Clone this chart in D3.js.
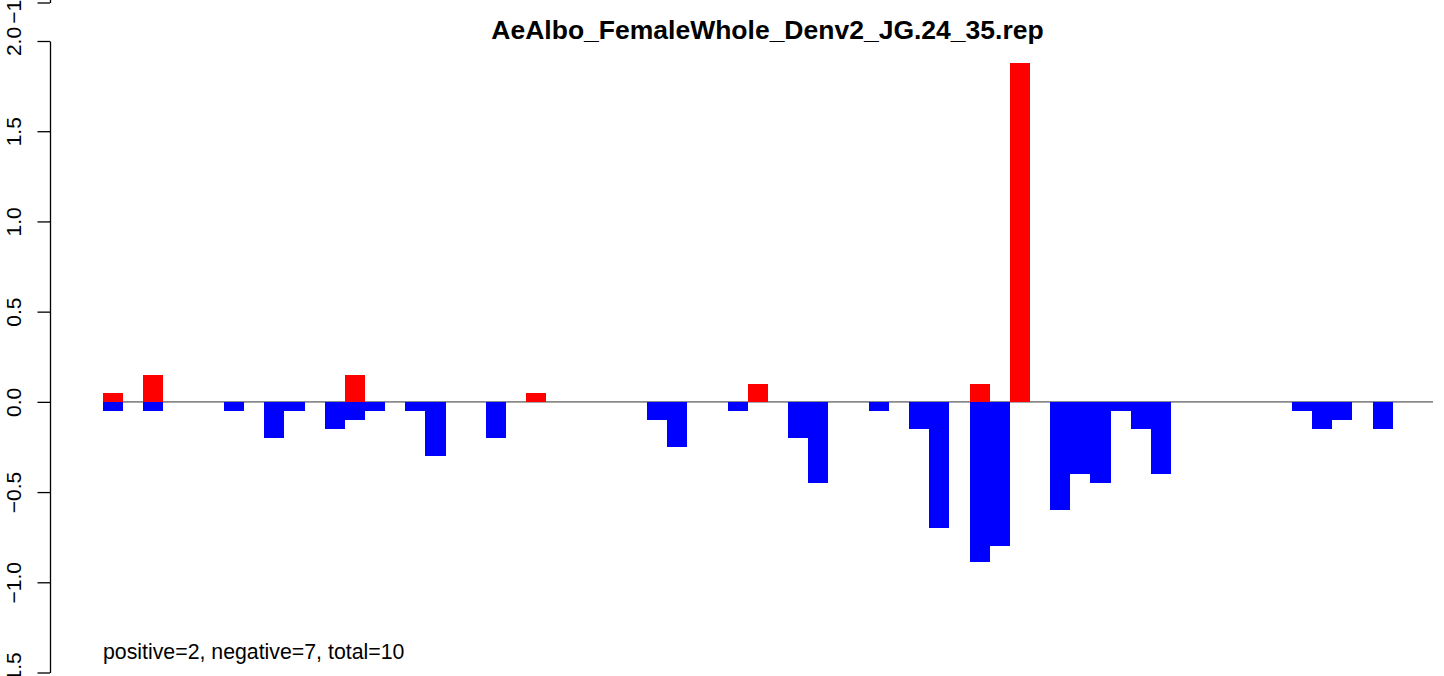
<!DOCTYPE html>
<html>
<head>
<meta charset="utf-8">
<script src="https://cdn.jsdelivr.net/npm/d3@7"></script>
<style>
  html, body { margin: 0; padding: 0; background: #fff; }
  svg { display: block; font-family: "Liberation Sans", Arial, Helvetica, sans-serif; }
</style>
</head>
<body>
<svg id="chart" width="1444" height="676"></svg>
<script>
// Replicate positions along the sequence (one slot each)
const slots = d3.range(66);

// Positive scores (red) by slot index
const positiveIdx = [0, 2, 12, 21, 32, 43, 45];
const positiveVal = [0.05, 0.15, 0.15, 0.05, 0.1, 0.1, 1.88];

// Negative scores (blue) by slot index
const negativeIdx = [0, 2, 6, 8, 9, 11, 12, 13, 15, 16, 19, 27, 28, 31, 34, 35, 38,
                     40, 41, 43, 44, 47, 48, 49, 50, 51, 52, 59, 60, 61, 63];
const negativeVal = [-0.05, -0.05, -0.05, -0.2, -0.05, -0.15, -0.1, -0.05, -0.05, -0.3, -0.2, -0.1, -0.25, -0.05, -0.2, -0.45, -0.05,
                     -0.15, -0.7, -0.89, -0.8, -0.6, -0.4, -0.45, -0.05, -0.15, -0.4, -0.05, -0.15, -0.1, -0.15];

const yTicks = [-1.5, -1.0, -0.5, 0.0, 0.5, 1.0, 1.5, 2.0];
const yDomain = [-1.5, 2.0];

const titleText = "AeAlbo_FemaleWhole_Denv2_JG.24_35.rep";
const summaryText = "positive=2, negative=7, total=10";

const svg = d3.select("#chart");

const x = d3.scaleBand().domain(slots).range([103, 1433]).padding(0);
const y = d3.scaleLinear().domain(yDomain).range([672.5, 41]);

const axisX = 50;

function drawAxis(g, ticks) {
  g.call(d3.axisLeft(y).tickValues(ticks).tickSize(12.5).tickSizeOuter(0)
        .tickFormat(d3.format(".1f")));
  g.select(".domain").attr("stroke", "#000").attr("stroke-width", 1.3);
  g.selectAll(".tick line").attr("stroke", "#000").attr("stroke-width", 1.3);
  g.selectAll(".tick text")
    .attr("x", 0).attr("y", 0).attr("dy", null)
    .attr("transform", "translate(-29,0) rotate(-90)")
    .attr("text-anchor", "middle")
    .attr("fill", "#000")
    .style("font-size", "21px")
    .style("font-family", "'Liberation Sans', Arial, Helvetica, sans-serif");
}

// Bottom end of the axis of the panel stacked above (cut by the frame)
const above = svg.append("g").attr("transform", `translate(${axisX},${-670})`);
drawAxis(above, [-1.5]);

// Zero baseline
svg.append("line")
  .attr("x1", x(0)).attr("x2", x(slots.length - 1) + x.bandwidth())
  .attr("y1", y(0)).attr("y2", y(0))
  .attr("stroke", "#8a8a8a").attr("stroke-width", 1.6);

// Positive bars
svg.append("g").attr("shape-rendering", "crispEdges").selectAll("rect")
  .data(positiveIdx.map((i, k) => ({ i, v: positiveVal[k] })))
  .join("rect")
  .attr("x", d => x(d.i))
  .attr("width", x.bandwidth())
  .attr("y", d => y(d.v))
  .attr("height", d => y(0) - y(d.v))
  .attr("fill", "#ff0000");

// Negative bars
svg.append("g").attr("shape-rendering", "crispEdges").selectAll("rect")
  .data(negativeIdx.map((i, k) => ({ i, v: negativeVal[k] })))
  .join("rect")
  .attr("x", d => x(d.i))
  .attr("width", x.bandwidth())
  .attr("y", y(0))
  .attr("height", d => y(d.v) - y(0))
  .attr("fill", "#0000ff");

// Y axis
const axisG = svg.append("g").attr("transform", `translate(${axisX},0)`);
drawAxis(axisG, yTicks);

// Title
svg.append("text")
  .attr("x", 767.5).attr("y", 39)
  .attr("text-anchor", "middle")
  .style("font-size", "26.5px").style("font-weight", "bold")
  .text(titleText);

// Summary counts
svg.append("text")
  .attr("x", 103).attr("y", 659)
  .style("font-size", "21.3px")
  .text(summaryText);
</script>
</body>
</html>
